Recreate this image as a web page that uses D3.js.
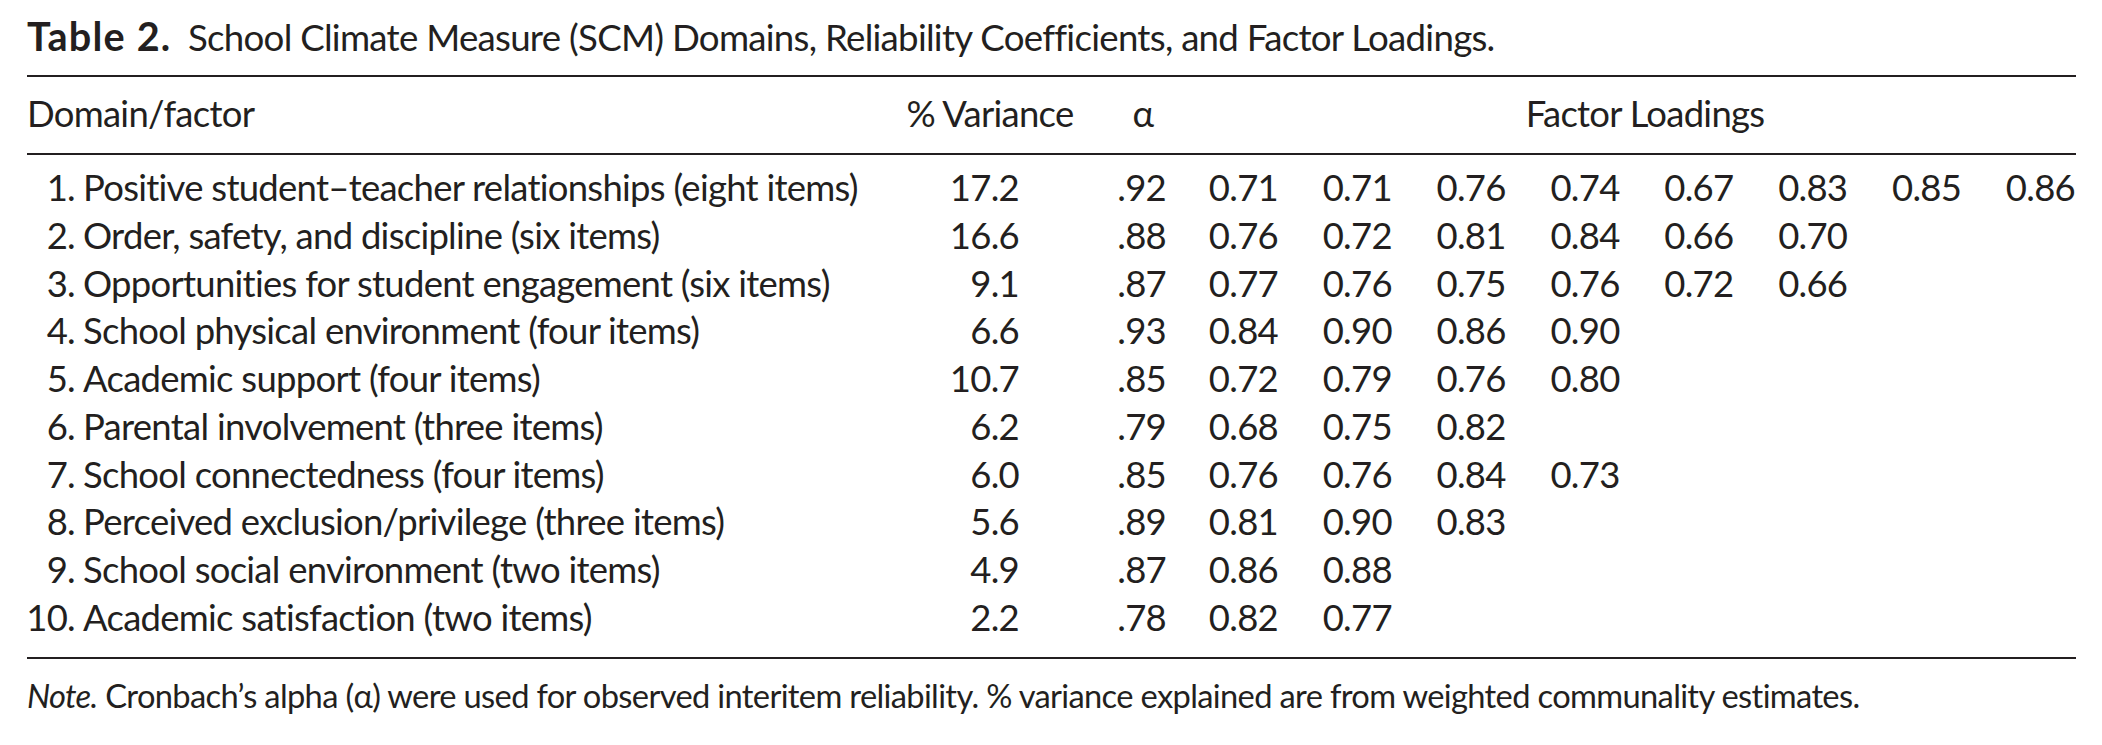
<!DOCTYPE html>
<html>
<head>
  <meta charset="utf-8">
  <script src="https://d3js.org/d3.v7.min.js"></script>
  <style>
    body { margin: 0; background: #fff; }
    text { font-family: Lato, "Open Sans", sans-serif; fill: #231f20; letter-spacing: -0.02em; }
  </style>
</head>
<body>
<script>
  "use strict";

  // table content
  var domainNums = ["1.", "2.", "3.", "4.", "5.", "6.", "7.", "8.", "9.", "10."];
  var domainLabels = [
    "Positive student\u2013teacher relationships (eight items)",
    "Order, safety, and discipline (six items)",
    "Opportunities for student engagement (six items)",
    "School physical environment (four items)",
    "Academic support (four items)",
    "Parental involvement (three items)",
    "School connectedness (four items)",
    "Perceived exclusion/privilege (three items)",
    "School social environment (two items)",
    "Academic satisfaction (two items)"
  ];
  var pctVariance = [17.2, 16.6, 9.1, 6.6, 10.7, 6.2, 6.0, 5.6, 4.9, 2.2];
  var alphas = [0.92, 0.88, 0.87, 0.93, 0.85, 0.79, 0.85, 0.89, 0.87, 0.78];
  var loadings = [
    [0.71, 0.71, 0.76, 0.74, 0.67, 0.83, 0.85, 0.86],
    [0.76, 0.72, 0.81, 0.84, 0.66, 0.70],
    [0.77, 0.76, 0.75, 0.76, 0.72, 0.66],
    [0.84, 0.90, 0.86, 0.90],
    [0.72, 0.79, 0.76, 0.80],
    [0.68, 0.75, 0.82],
    [0.76, 0.76, 0.84, 0.73],
    [0.81, 0.90, 0.83],
    [0.86, 0.88],
    [0.82, 0.77]
  ];
  var headers = ["Domain/factor", "% Variance", "\u03b1", "Factor Loadings"];
  var titleBold = "Table 2.";
  var titleText = "School Climate Measure (SCM) Domains, Reliability Coefficients, and Factor Loadings.";
  var noteLead = "Note.";
  var noteText = " Cronbach\u2019s alpha (\u03b1) were used for observed interitem reliability. % variance explained are from weighted communality estimates.";

  var width = 2102, height = 745,
      left = 27, right = 2076;

  var svg = d3.select("body").append("svg")
      .attr("width", width)
      .attr("height", height);

  // scales
  var y = d3.scaleLinear().domain([0, domainLabels.length - 1]).range([201, 631]);
  var xLoad = d3.scaleLinear().domain([0, 7]).range([1278, 2075]);
  var xPct = 1019, xAlpha = 1166, xNum = 75, xLabel = 83;

  var fmt1 = d3.format(".1f"), fmt2 = d3.format(".2f");
  var fmtAlpha = function (v) { return fmt2(v).replace(/^0/, ""); };

  // work out a font size so a string spans a given width
  function fitSize(str, target, weight) {
    var t = svg.append("text").attr("font-size", 100)
      .attr("font-weight", weight || 400).text(str);
    var w = t.node().getComputedTextLength();
    t.remove();
    return 100 * target / w;
  }

  var bodySize = fitSize(domainLabels[0], 858 - xLabel);
  var titleSize = fitSize(titleText, 1495 - 188);
  var noteSize = fitSize(noteLead + noteText, 1866 - left);

  // rules
  svg.selectAll("line.rule")
    .data([76, 154, 658])
    .enter().append("line")
      .attr("class", "rule")
      .attr("x1", left).attr("x2", right)
      .attr("y1", function (d) { return d; })
      .attr("y2", function (d) { return d; })
      .attr("stroke", "#231f20")
      .attr("stroke-width", 2.2);

  // title
  var title = svg.append("text").attr("x", left).attr("y", 51).attr("font-size", titleSize);
  title.append("tspan").attr("font-weight", 700)
    .attr("font-size", titleSize * 1.08)
    .style("letter-spacing", "0.03em")
    .text(titleBold);
  title.append("tspan").attr("x", 188).text(titleText);

  // column heads
  var head = svg.append("g").attr("font-size", bodySize);
  head.append("text").attr("x", left).attr("y", 127).text(headers[0]);
  head.append("text").attr("x", 990).attr("y", 127).attr("text-anchor", "middle").text(headers[1]);
  head.append("text").attr("x", 1143).attr("y", 127).attr("text-anchor", "middle").text(headers[2]);
  head.append("text").attr("x", 1645).attr("y", 127).attr("text-anchor", "middle").text(headers[3]);

  // rows
  var rows = svg.selectAll("g.row")
    .data(domainLabels)
    .enter().append("g")
      .attr("class", "row")
      .attr("font-size", bodySize)
      .attr("transform", function (d, i) { return "translate(0," + y(i) + ")"; });

  rows.append("text").attr("x", xNum).attr("text-anchor", "end")
    .text(function (d, i) { return domainNums[i]; });
  rows.append("text").attr("x", xLabel).text(function (d) { return d; });
  rows.append("text").attr("x", xPct).attr("text-anchor", "end")
    .text(function (d, i) { return fmt1(pctVariance[i]); });
  rows.append("text").attr("x", xAlpha).attr("text-anchor", "end")
    .text(function (d, i) { return fmtAlpha(alphas[i]); });

  rows.selectAll("text.load")
    .data(function (d, i) { return loadings[i]; })
    .enter().append("text")
      .attr("class", "load")
      .attr("x", function (d, j) { return xLoad(j); })
      .attr("text-anchor", "end")
      .text(function (d) { return fmt2(d); });

  // note
  var note = svg.append("text").attr("x", left).attr("y", 708).attr("font-size", noteSize);
  note.append("tspan").attr("font-style", "italic").text(noteLead);
  note.append("tspan").text(noteText);
</script>
</body>
</html>
